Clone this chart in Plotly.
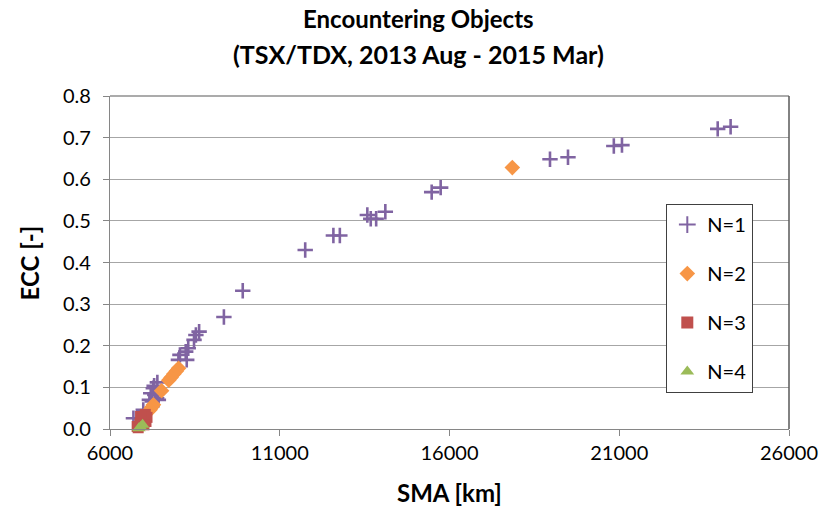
import plotly.graph_objects as go

# Semi-major axis [km] and eccentricity of encountering objects, grouped by N
sma_n1 = [23900, 24280, 20840, 21080, 18960, 19490, 15475, 15740,
          13580, 13680, 13840, 14110, 12580, 12770, 11750, 9910, 9355,
          8625, 8530, 8475, 8305, 8230, 8060, 8260, 8015,
          7395, 7300, 7275, 7320, 7200, 7375, 7245, 7160, 7425,
          6980, 6690]
ecc_n1 = [0.721, 0.726, 0.680, 0.682, 0.648, 0.653, 0.569, 0.580,
          0.514, 0.505, 0.505, 0.522, 0.465, 0.465, 0.430, 0.332, 0.269,
          0.234, 0.226, 0.214, 0.194, 0.186, 0.178, 0.166, 0.166,
          0.112, 0.104, 0.098, 0.082, 0.086, 0.074, 0.066, 0.070, 0.070,
          0.046, 0.026]

sma_n2 = [17850, 8020, 7950, 7880, 7800, 7730, 7520,
          7280, 7230, 7180]
ecc_n2 = [0.628, 0.146, 0.139, 0.132, 0.124, 0.117, 0.092,
          0.058, 0.052, 0.046]

sma_n3 = [7040, 7090, 6950, 7060, 6900, 7000, 6880, 6800, 6830]
ecc_n3 = [0.035, 0.028, 0.020, 0.018, 0.030, 0.010, 0.012, 0.006, 0.003]

sma_n4 = [6900, 6960, 6850]
ecc_n4 = [0.005, 0.010, 0.002]

x_ticks = [6000, 11000, 16000, 21000, 26000]
y_ticks = [0.0, 0.1, 0.2, 0.3, 0.4, 0.5, 0.6, 0.7, 0.8]

title_lines = ["Encountering Objects", "(TSX/TDX, 2013 Aug - 2015 Mar)"]
x_title = "SMA [km]"
y_title = "ECC [-]"

FONT = "Lato"

fig = go.Figure()

series = [
    ("N=1", sma_n1, ecc_n1, dict(symbol="cross-thin", size=11, color="#8064A2",
                                 line=dict(color="#8064A2", width=2.6))),
    ("N=2", sma_n2, ecc_n2, dict(symbol="diamond", size=12, color="#F79646")),
    ("N=3", sma_n3, ecc_n3, dict(symbol="square", size=11, color="#C0504D")),
    ("N=4", sma_n4, ecc_n4, dict(symbol="triangle-up", size=12, color="#9BBB59")),
]
for name, xs, ys, mk in series:
    fig.add_trace(go.Scatter(
        x=xs, y=ys, mode="markers", name=name, legendgroup=name,
        marker=mk, cliponaxis=False,
    ))

annotations = [
    dict(text=f"<b>{title_lines[0]}</b>", xref="paper", yref="paper",
         x=0.455, y=1.234, xanchor="center", yanchor="middle", showarrow=False,
         font=dict(family=FONT, size=24)),
    dict(text=f"<b>{title_lines[1]}</b>", xref="paper", yref="paper",
         x=0.455, y=1.127, xanchor="center", yanchor="middle", showarrow=False,
         font=dict(family=FONT, size=25)),
    dict(text=f"<b>{x_title}</b>", xref="paper", yref="paper",
         x=0.5, y=-0.19, xanchor="center", yanchor="middle", showarrow=False,
         font=dict(family=FONT, size=24)),
    dict(text=f"<b>{y_title}</b>", xref="paper", yref="paper",
         x=-0.118, y=0.5, xanchor="center", yanchor="middle", showarrow=False,
         textangle=-90, font=dict(family=FONT, size=24)),
]

fig.update_layout(
    width=836, height=513,
    margin=dict(l=110, r=47, t=96, b=84),
    paper_bgcolor="white", plot_bgcolor="white",
    font=dict(family=FONT, size=20, color="#000000"),
    showlegend=True,
    legend=dict(
        x=0.819, y=0.676, xanchor="left", yanchor="top",
        bordercolor="#404040", borderwidth=1.2, bgcolor="white",
        font=dict(family=FONT, size=20),
        tracegroupgap=20, itemsizing="constant", itemwidth=30,
    ),
    xaxis=dict(
        range=[6000, 26000], tickvals=x_ticks, ticktext=[str(v) for v in x_ticks],
        showgrid=False, zeroline=False,
        showline=True, linecolor="#868686", linewidth=1.2,
        ticks="outside", ticklen=6, tickcolor="#868686",
        mirror=False,
    ),
    yaxis=dict(
        range=[0, 0.8], tickvals=y_ticks, tickformat=".1f",
        showgrid=True, gridcolor="#A6A6A6", gridwidth=1.2,
        zeroline=False,
        showline=True, linecolor="#868686", linewidth=1.2,
        ticks="outside", ticklen=6, tickcolor="#868686",
        ticklabelstandoff=8,
    ),
    annotations=annotations,
    shapes=[
        # plot-area frame on the top and right sides
        dict(type="line", xref="paper", yref="paper", x0=0, x1=1, y0=1, y1=1,
             line=dict(color="#595959", width=1.2)),
        dict(type="line", xref="paper", yref="paper", x0=1, x1=1, y0=0, y1=1,
             line=dict(color="#595959", width=1.5)),
    ],
)

fig.write_html("out.html")
